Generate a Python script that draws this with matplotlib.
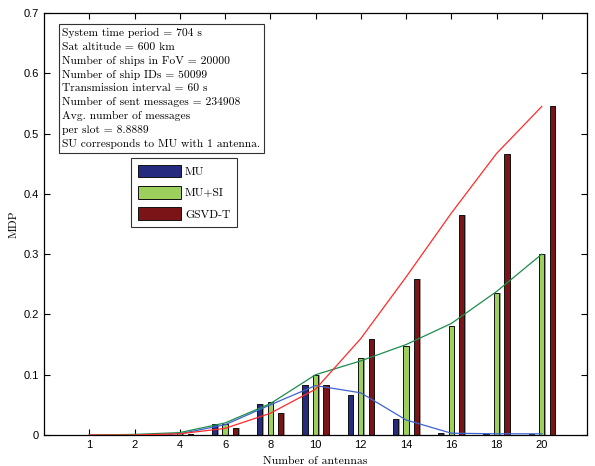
import matplotlib
matplotlib.use("Agg")
import matplotlib.pyplot as plt
import numpy as np

antennas = ["1", "2", "4", "6", "8", "10", "12", "14", "16", "18", "20"]
mu = [0.0, 0.0, 0.002, 0.018, 0.052, 0.083, 0.066, 0.027, 0.003, 0.001, 0.001]
mu_si = [0.0, 0.001, 0.003, 0.019, 0.054, 0.100, 0.127, 0.148, 0.181, 0.235, 0.300]
gsvd_t = [0.0, 0.0, 0.002, 0.012, 0.037, 0.083, 0.160, 0.258, 0.365, 0.467, 0.545]
# approximation curves (drawn as lines)
mu_line = [0.0, 0.0, 0.002, 0.017, 0.050, 0.082, 0.070, 0.025, 0.003, 0.002, 0.002]
mu_si_line = [0.0, 0.001, 0.004, 0.020, 0.052, 0.100, 0.123, 0.150, 0.185, 0.238, 0.300]
gsvd_line = [0.0, 0.0, 0.002, 0.011, 0.036, 0.076, 0.160, 0.262, 0.368, 0.467, 0.545]

info_lines = [
    "System time period = 704 s",
    "Sat altitude = 600 km",
    "Number of ships in FoV = 20000",
    "Number of ship IDs = 50099",
    "Transmission interval = 60 s",
    "Number of sent messages = 234908",
    "Avg. number of messages",
    "per slot = 8.8889",
    "SU corresponds to MU with 1 antenna.",
]

serif = "cmr10"

fig = plt.figure(figsize=(5.95, 4.66), dpi=100)
ax = fig.add_axes([0.074, 0.0665, 0.9126, 0.9055])

x = np.arange(1, len(antennas) + 1)
off = 0.232
w = 0.12
cols = ["#252B7E", "#9DCF5C", "#7A1416"]
series = [mu, mu_si, gsvd_t]
labels = ["MU", "MU+SI", "GSVD-T"]
handles = []
for i, (s, c, lab) in enumerate(zip(series, cols, labels)):
    pos = x + (i - 1) * off
    ax.bar(pos + 0.03, s, width=w, color="#9a9a9a", edgecolor="none", zorder=1)
    h = ax.bar(pos, s, width=w, color=c, edgecolor="#111111", linewidth=0.7, zorder=2, label=lab)
    handles.append(h)

ax.plot(x, mu_line, color="#3F63D0", lw=0.9, zorder=3)
ax.plot(x, mu_si_line, color="#1E8C4E", lw=0.9, zorder=3)
ax.plot(x, gsvd_line, color="#FF2A2A", lw=0.9, zorder=3)

ax.set_xlim(0, 12)
ax.set_ylim(0, 0.7)
ax.set_xticks(x)
ax.set_xticklabels(antennas)
ax.set_yticks(np.arange(0, 0.71, 0.1))
ax.set_yticklabels(["0", "0.1", "0.2", "0.3", "0.4", "0.5", "0.6", "0.7"])
ax.tick_params(direction="in", top=True, right=True, length=4, labelsize=8, width=0.8)
for lab in ax.get_xticklabels() + ax.get_yticklabels():
    lab.set_fontfamily("Liberation Sans")
for sp in ax.spines.values():
    sp.set_linewidth(0.9)

ax.set_xlabel("Number of antennas", fontfamily=serif, fontsize=8.4, labelpad=5)
ax.set_ylabel("MDP", fontfamily=serif, fontsize=8.4, labelpad=4)

ax.text(0.034, 0.964, "\n".join(info_lines), transform=ax.transAxes, va="top", ha="left",
        fontfamily=serif, fontsize=8.3, linespacing=1.5,
        bbox=dict(boxstyle="square,pad=0.33", fc="white", ec="#333333", lw=0.8))

leg = ax.legend(handles=handles, loc="upper left", bbox_to_anchor=(0.150, 0.670),
                prop={"family": serif, "size": 8.4}, frameon=True, fancybox=False,
                edgecolor="black", handlelength=3.7, handleheight=1.3,
                labelspacing=0.75, borderpad=0.55, handletextpad=0.35)
leg.get_frame().set_linewidth(0.8)

fig.savefig("out.png", dpi=100)
